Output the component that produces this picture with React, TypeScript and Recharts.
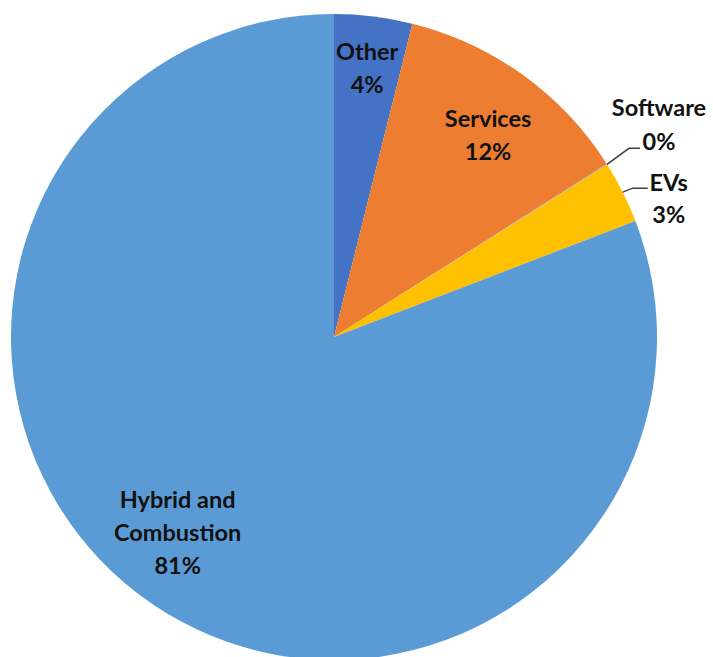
import React from 'react';
import { PieChart, Pie, Cell } from 'recharts';

const categories = ['Other', 'Services', 'Software', 'EVs', 'Hybrid and Combustion'];
const shares = [3.9, 12.1, 0.05, 3.1, 80.85];
const percentLabels = ['4%', '12%', '0%', '3%', '81%'];
const colors = ['#4472C4', '#ED7D31', '#A5A5A5', '#FFC000', '#5B9BD5'];

const data = categories.map((name, i) => ({ name, value: shares[i], pct: percentLabels[i] }));

const RAD = Math.PI / 180;
const FONT = 'Lato, "Open Sans", sans-serif';
const FS = 23.5;

// inside label placement: radius fraction and angle nudge (deg)
const insideFactor: Record<number, number> = { 0: 0.84, 1: 0.787, 4: 0.773 };
const insideNudge: Record<number, number> = { 0: 0, 1: -1.5, 4: -4.3 };

const Txt = ({ x, y, children }: any) => (
  <text x={x} y={y} textAnchor="middle" dominantBaseline="central"
    fontFamily={FONT} fontWeight={700} fontSize={FS} fill="#111">{children}</text>
);

const renderLabel = (props: any) => {
  const { cx, cy, midAngle, outerRadius, index } = props;
  const item = data[index];

  if (index === 2 || index === 3) {
    const cos = Math.cos(-midAngle * RAD);
    const sin = Math.sin(-midAngle * RAD);
    const sx = cx + outerRadius * cos;
    const sy = cy + outerRadius * sin;
    const sw = index === 2;
    const ex = sx + (sw ? 22 : 10);
    const ey = sy - (sw ? 16 : 4);
    const hx = ex + (sw ? 11 : 15);
    const tx = hx + (sw ? 19 : 21);
    const y1 = sw ? ey - 41 : ey - 6;
    const y2 = sw ? ey - 7 : ey + 26;
    return (
      <g key={`lbl-${index}`}>
        <path d={`M${sx},${sy}L${ex},${ey}L${hx},${ey}`} stroke="#404040" strokeWidth={1.5} fill="none" />
        <Txt x={tx} y={y1}>{item.name}</Txt>
        <Txt x={tx} y={y2}>{item.pct}</Txt>
      </g>
    );
  }

  const a = (midAngle + insideNudge[index]) * RAD;
  const r = outerRadius * insideFactor[index];
  const x = cx + r * Math.cos(-a);
  const y = cy + r * Math.sin(-a);
  const lines = index === 4 ? ['Hybrid and', 'Combustion', item.pct] : [item.name, item.pct];
  const step = 33;
  const y0 = y - ((lines.length - 1) * step) / 2;
  return (
    <g key={`lbl-${index}`}>
      {lines.map((t, k) => (
        <Txt key={k} x={x} y={y0 + k * step}>{t}</Txt>
      ))}
    </g>
  );
};

const App: React.FC = () => {
  return (
    <div style={{ position: 'fixed', left: 0, top: 0, width: 713, height: 657, background: '#fff' }}>
      <PieChart width={713} height={657} margin={{ top: 0, right: 0, bottom: 0, left: 0 }}>
        <Pie
          data={data}
          dataKey="value"
          nameKey="name"
          cx={334}
          cy={337}
          outerRadius={323}
          startAngle={90}
          endAngle={-270}
          stroke="none"
          labelLine={false}
          label={renderLabel}
          isAnimationActive={false}
        >
          {data.map((entry, index) => (
            <Cell key={`cell-${index}`} fill={colors[index]} />
          ))}
        </Pie>
      </PieChart>
    </div>
  );
};

export default App;
